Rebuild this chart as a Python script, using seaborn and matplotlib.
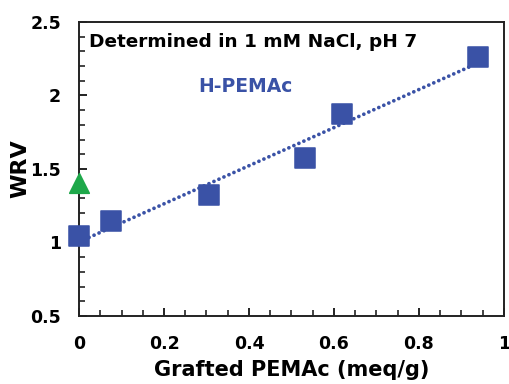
import matplotlib
matplotlib.use("Agg")
import matplotlib.pyplot as plt
import numpy as np
import pandas as pd
import seaborn as sns
from matplotlib.ticker import MultipleLocator

# data
grafted = [0.0, 0.076, 0.307, 0.531, 0.619, 0.938]
wrv = [1.044, 1.146, 1.323, 1.575, 1.874, 2.262]
ref_x = [0.0]
ref_wrv = [1.405]

blue = "#3a52a6"
green = "#1ea84a"

sns.set_style("ticks")
plt.rcParams['font.family'] = ['DejaVu Sans']
plt.rcParams['font.weight'] = 'bold'
plt.rcParams['text.color'] = 'black'
plt.rcParams['axes.labelcolor'] = 'black'
plt.rcParams['xtick.color'] = '#111111'
plt.rcParams['ytick.color'] = '#111111'

df = pd.DataFrame({"Grafted": grafted, "WRV": wrv})

fig = plt.figure(figsize=(5.1, 3.84), dpi=100)
ax = fig.add_axes([0.155, 0.177, 0.833, 0.766])

# dotted trend line
sns.regplot(data=df, x="Grafted", y="WRV", ax=ax, ci=None, scatter=False,
            line_kws=dict(color=blue, linestyle=(0, (0.01, 1.45)), linewidth=2.7,
                          dash_capstyle="round"))
sns.scatterplot(data=df, x="Grafted", y="WRV", ax=ax, marker="s", s=200,
                color=blue, edgecolor=blue, zorder=3, clip_on=False)
sns.scatterplot(x=ref_x, y=ref_wrv, ax=ax, marker="^", s=200,
                color=green, edgecolor=green, zorder=3, clip_on=False)

ax.set_xlim(0, 1)
ax.set_ylim(0.5, 2.5)
ax.xaxis.set_minor_locator(MultipleLocator(0.05))
ax.yaxis.set_minor_locator(MultipleLocator(0.1))
ax.set_xticks([0, 0.2, 0.4, 0.6, 0.8, 1.0])
ax.set_xticklabels(["0", "0.2", "0.4", "0.6", "0.8", "1"])
ax.set_yticks([0.5, 1, 1.5, 2, 2.5])
ax.set_yticklabels(["0.5", "1", "1.5", "2", "2.5"])
ax.tick_params(which="major", direction="in", length=6, width=1.3,
               labelsize=12.5, labelcolor="black", top=False, right=False)
ax.tick_params(axis="x", which="major", pad=14)
ax.tick_params(axis="y", which="major", pad=13)
ax.tick_params(which="minor", direction="in", length=4, width=1.1,
               top=False, right=False)
for lab in ax.get_xticklabels() + ax.get_yticklabels():
    lab.set_fontweight("bold")
for sp in ax.spines.values():
    sp.set_linewidth(1.4)
    sp.set_color("#222222")

ax.set_xlabel("Grafted PEMAc (meq/g)", fontsize=15, fontweight="bold", labelpad=5)
ax.set_ylabel("WRV", fontsize=16, fontweight="bold", labelpad=0)

ax.text(0.024, 0.93, "Determined in 1 mM NaCl, pH 7", transform=ax.transAxes,
        fontsize=13.3, fontweight="bold", color="black", va="center")
ax.text(0.28, 0.782, "H-PEMAc", transform=ax.transAxes,
        fontsize=13.5, fontweight="bold", color=blue, va="center")

plt.savefig("out.png", dpi=100)
